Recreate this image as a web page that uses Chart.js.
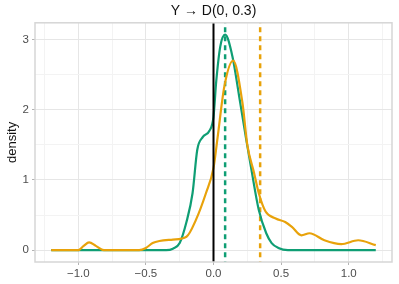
<!DOCTYPE html>
<html>
<head>
<meta charset="utf-8">
<script src="https://cdn.jsdelivr.net/npm/chart.js@4/dist/chart.umd.min.js"></script>
<style>
  html, body { margin: 0; padding: 0; background: #fff; }
  #wrap { width: 399px; height: 284px; }
</style>
</head>
<body>
<div id="wrap"><canvas id="c" width="399" height="284"></canvas></div>
<script>
// ---- data ----
const greenX = [-1.2, -0.5, -0.35, -0.3, -0.25, -0.2, -0.155, -0.12, -0.08, -0.03, 0.0, 0.02, 0.05, 0.086, 0.14, 0.19, 0.24, 0.28, 0.335, 0.39, 0.43, 0.48, 0.55, 1.2];
const greenY = [0, 0, 0, 0.02, 0.1, 0.4, 0.81, 1.43, 1.61, 1.7, 1.9, 2.4, 2.9, 3.07, 2.76, 2.19, 1.6, 1.15, 0.57, 0.24, 0.1, 0.03, 0, 0];

const orangeX = [-1.2, -1.0, -0.96, -0.92, -0.87, -0.81, -0.55, -0.5, -0.45, -0.4, -0.3, -0.2, -0.13, -0.056, 0.0, 0.03, 0.08, 0.145, 0.214, 0.25, 0.3, 0.335, 0.385, 0.46, 0.53, 0.58, 0.65, 0.71, 0.82, 0.945, 1.07, 1.2];
const orangeY = [0, 0, 0.06, 0.11, 0.06, 0, 0, 0.03, 0.1, 0.13, 0.15, 0.19, 0.43, 0.81, 1.17, 1.6, 2.33, 2.70, 2.1, 1.5, 1.1, 0.81, 0.55, 0.45, 0.40, 0.33, 0.21, 0.24, 0.14, 0.085, 0.14, 0.07];

const greenMean = 0.086;
const orangeMean = 0.345;
const zeroLine = 0;

const xTicks = [-1.25, -1.0, -0.75, -0.5, -0.25, 0, 0.25, 0.5, 0.75, 1.0, 1.25];
const yTicks = [0, 0.5, 1, 1.5, 2, 2.5, 3];

const GREEN = "#0f9e74";
const ORANGE = "#e8a20a";

function pts(xs, ys) {
  return xs.map((x, i) => ({ x: x, y: ys[i] }));
}
function vline(x) {
  return [{ x: x, y: -1 }, { x: x, y: 5 }];
}
function isMajor(v, step) {
  return Math.abs(v / step - Math.round(v / step)) < 1e-6;
}

// panel border like ggplot theme_light
const panelBorder = {
  id: "panelBorder",
  afterDraw(chart) {
    const a = chart.chartArea, ctx = chart.ctx;
    ctx.save();
    ctx.strokeStyle = "#d6d6d6";
    ctx.lineWidth = 1.5;
    ctx.strokeRect(a.left, a.top, a.right - a.left, a.bottom - a.top);
    ctx.restore();
  }
};

new Chart(document.getElementById("c"), {
  type: "line",
  data: {
    datasets: [
      { data: vline(zeroLine), borderColor: "#000", borderWidth: 2 },
      { data: pts(orangeX, orangeY), borderColor: ORANGE, borderWidth: 2.2, cubicInterpolationMode: "monotone" },
      { data: pts(greenX, greenY), borderColor: GREEN, borderWidth: 2.2, cubicInterpolationMode: "monotone" },
      { data: vline(greenMean), borderColor: GREEN, borderWidth: 2.5, borderDash: [5, 4] },
      { data: vline(orangeMean), borderColor: ORANGE, borderWidth: 2.5, borderDash: [5, 4] }
    ]
  },
  options: {
    responsive: false,
    animation: false,
    elements: { point: { radius: 0 } },
    layout: { padding: { right: 7, bottom: 4 } },
    plugins: {
      legend: { display: false },
      tooltip: { enabled: false },
      title: {
        display: true,
        fullSize: false,
        text: "Y \u2192 D(0, 0.3)",
        color: "#111",
        font: { family: "Liberation Sans", size: 14, weight: "normal" },
        padding: { top: 3, bottom: 3 }
      }
    },
    scales: {
      x: {
        type: "linear",
        min: -1.32,
        max: 1.32,
        afterBuildTicks: s => { s.ticks = xTicks.map(v => ({ value: v })); },
        afterFit: s => { s.height = 18; },
        ticks: {
          autoSkip: false,
          maxRotation: 0,
          padding: 2,
          color: "#4d4d4d",
          font: { family: "Liberation Sans", size: 11.5 },
          callback: v => isMajor(v, 0.5) ? (v < 0 ? "\u2212" : "") + Math.abs(v).toFixed(1) : ""
        },
        grid: {
          color: c => isMajor(c.tick.value, 0.5) ? "#e6e6e6" : "#f3f3f3",
          tickColor: c => isMajor(c.tick.value, 0.5) ? "#b3b3b3" : "rgba(0,0,0,0)",
          tickLength: 3,
          lineWidth: 1
        },
        border: { display: false }
      },
      y: {
        type: "linear",
        min: -0.17,
        max: 3.24,
        afterBuildTicks: s => { s.ticks = yTicks.map(v => ({ value: v })); },
        afterFit: s => { s.width = 35; },
        ticks: {
          padding: 3,
          color: "#4d4d4d",
          font: { family: "Liberation Sans", size: 11.5 },
          callback: v => isMajor(v, 1) ? String(v) : ""
        },
        title: {
          display: true,
          text: "density",
          color: "#111",
          font: { family: "Liberation Sans", size: 13 },
          padding: { top: 5, bottom: 0 }
        },
        grid: {
          color: c => isMajor(c.tick.value, 1) ? "#e6e6e6" : "#f3f3f3",
          tickColor: c => isMajor(c.tick.value, 1) ? "#b3b3b3" : "rgba(0,0,0,0)",
          tickLength: 3,
          lineWidth: 1
        },
        border: { display: false }
      }
    }
  },
  plugins: [panelBorder]
});
</script>
</body>
</html>
